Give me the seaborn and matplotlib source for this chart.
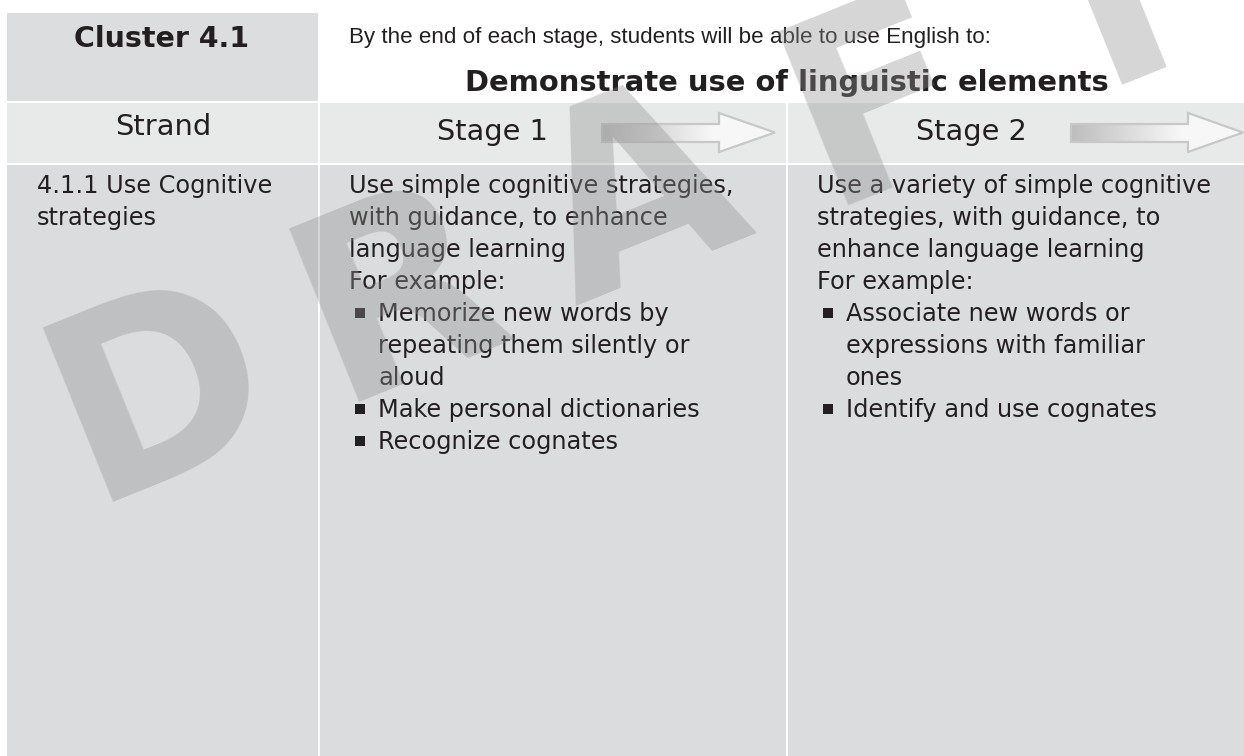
import numpy as np
import matplotlib
matplotlib.use("Agg")
import matplotlib.pyplot as plt
from matplotlib import font_manager
from matplotlib.patches import Rectangle, Polygon
import seaborn as sns

# Table content
cluster_label = "Cluster 4.1"
intro_text = "By the end of each stage, students will be able to use English to:"
cluster_title = "Demonstrate use of linguistic elements"
column_headers = ["Strand", "Stage 1", "Stage 2"]
strand_lines = ["4.1.1 Use Cognitive", "strategies"]
stage1_lines = ["Use simple cognitive strategies,", "with guidance, to enhance",
                "language learning", "For example:"]
stage1_examples = [["Memorize new words by", "repeating them silently or", "aloud"],
                   ["Make personal dictionaries"],
                   ["Recognize cognates"]]
stage2_lines = ["Use a variety of simple cognitive", "strategies, with guidance, to",
                "enhance language learning", "For example:"]
stage2_examples = [["Associate new words or", "expressions with familiar", "ones"],
                   ["Identify and use cognates"]]
watermark_letters = ["D", "R", "A", "F", "T"]

W, H = 1244, 756
INK = "#231f20"
BODY = "#dbdcde"
HEAD = "#e8e9e9"
LINE_H = 32
FIRST_BASE = 193

sns.set_theme(style="white")
plt.rcParams["font.family"] = ["DejaVu Sans"]

# narrow font for the intro line if there is one, else plain Liberation Sans
names = set(font_manager.get_font_names())
if "Liberation Sans Narrow" in names:
    narrow_font, narrow_size = "Liberation Sans Narrow", 16.5
else:
    narrow_font, narrow_size = "Liberation Sans", 16.1


def draw_arrow(ax, x0, xh, xt, y0=124, y1=142, h0=113, h1=152):
    ym = (h0 + h1) / 2
    pts = [(x0, y0), (xh, y0), (xh, h0), (xt, ym), (xh, h1), (xh, y1), (x0, y1)]
    poly = Polygon(pts, closed=True, facecolor="none", edgecolor="#c8c8c8", lw=1.6, zorder=4)
    ax.add_patch(poly)
    xs = np.linspace(0, 1, 256)
    vals = np.clip(0.74 + 0.24 * (xs / 0.68), 0, 0.965)
    grad = np.tile(vals, (2, 1))
    im = ax.imshow(grad, cmap="gray", vmin=0, vmax=1, aspect="auto",
                   extent=(x0, xt, h1, h0), zorder=3, interpolation="bilinear")
    clip = Polygon(pts, closed=True, transform=ax.transData)
    im.set_clip_path(clip)


def draw_block(ax, x, bullet_x, text_x, lines, examples):
    base = FIRST_BASE
    for ln in lines:
        ax.text(x, base, ln, fontsize=17.3, color=INK, va="baseline", ha="left", zorder=5)
        base += LINE_H
    for item in examples:
        ax.plot([bullet_x + 6], [base - 8.3], marker="s", ms=7.8, color=INK,
                mew=0, zorder=5)
        for ln in item:
            ax.text(text_x, base, ln, fontsize=17.3, color=INK, va="baseline",
                    ha="left", zorder=5)
            base += LINE_H


fig = plt.figure(figsize=(W / 100, H / 100), dpi=100)
fig.patch.set_facecolor("white")
ax = fig.add_axes([0, 0, 1, 1])
ax.set_xlim(0, W)
ax.set_ylim(H, 0)
ax.axis("off")

# cell backgrounds
col_edges = [(7, 318), (320, 786), (788, W)]
ax.add_patch(Rectangle((7, 13), 311, 88, facecolor="#dcdddf", lw=0, zorder=1))
for (a, b) in col_edges:
    ax.add_patch(Rectangle((a, 103), b - a, 60, facecolor=HEAD, lw=0, zorder=1))
    ax.add_patch(Rectangle((a, 165), b - a, H - 165, facecolor=BODY, lw=0, zorder=1))

# header texts
ax.text(162, 47, cluster_label, fontsize=20.5, fontweight="bold", color=INK,
        ha="center", va="baseline", zorder=5)
ax.text(349, 43, intro_text, fontsize=narrow_size, family=narrow_font, color=INK,
        ha="left", va="baseline", zorder=5)
ax.text(787, 91, cluster_title, fontsize=20.9, fontweight="bold", color=INK,
        ha="center", va="baseline", zorder=5)

ax.text(163, 135, column_headers[0], fontsize=20.8, color=INK, ha="center",
        va="baseline", zorder=5)
ax.text(437, 140, column_headers[1], fontsize=20.7, color=INK, ha="left",
        va="baseline", zorder=5)
ax.text(916, 140, column_headers[2], fontsize=20.7, color=INK, ha="left",
        va="baseline", zorder=5)

draw_arrow(ax, 602, 719, 775)
draw_arrow(ax, 1071, 1188, 1243)

# body
draw_block(ax, 37, 0, 0, strand_lines, [])
draw_block(ax, 349, 354, 378, stage1_lines, stage1_examples)
draw_block(ax, 817, 822, 846, stage2_lines, stage2_examples)

# DRAFT watermark, on top with transparency
ang = 22
c, s = np.cos(np.radians(ang)), np.sin(np.radians(ang))
cap = 190
start = np.array([152.0, 374.0])
step = 258
for i, letter in enumerate(watermark_letters):
    cx, cy = start + i * step * np.array([c, -s])
    bx, by = cx + s * cap / 2, cy + c * cap / 2
    ax.text(bx, by, letter, fontsize=184, fontweight="bold", color="#909090",
            alpha=0.37, rotation=ang, rotation_mode="anchor", ha="center",
            va="baseline", zorder=10)

fig.savefig("out.png", dpi=100, facecolor="white")
